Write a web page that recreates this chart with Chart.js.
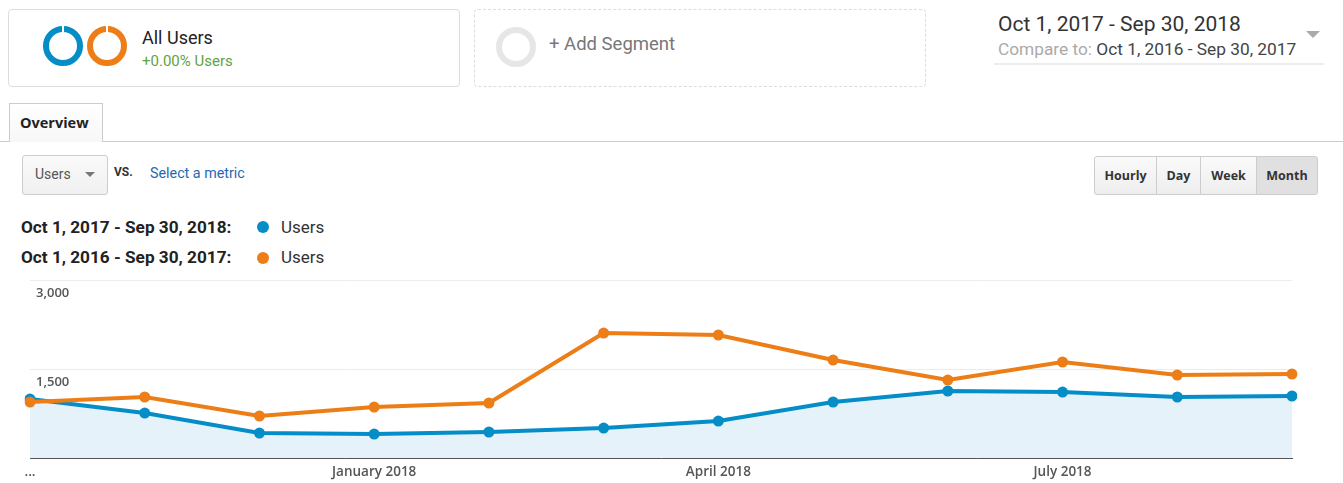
<!DOCTYPE html>
<html>
<head>
<meta charset="utf-8">
<script src="https://cdn.jsdelivr.net/npm/chart.js@4.4.0/dist/chart.umd.min.js"></script>
<style>
  body { margin: 0; width: 1343px; height: 483px; background: #fff; font-family: Roboto, Arial, sans-serif; position: relative; overflow: hidden; color: #333; }
  .abs { position: absolute; }
  .seg { top: 9px; height: 78px; border: 1px solid #dcdcdc; border-radius: 4px; box-sizing: border-box; }
  .ring { width: 40px; height: 40px; border-radius: 50%; box-sizing: border-box; border: 6px solid; }
  .tab { left: 9px; top: 103px; width: 94px; height: 39px; border: 1px solid #ccc; border-bottom: none; background: linear-gradient(#fff, #f7f7f7); box-sizing: border-box; font: bold 14.5px "Open Sans", Arial, sans-serif; color: #222; padding: 9px 0 0 10px; }
  .btn { top: 156px; height: 39px; border: 1px solid #ccc; background: linear-gradient(#fafafa, #eee); box-sizing: border-box; font: bold 12.5px "Open Sans", Arial, sans-serif; color: #333; text-align: center; line-height: 37px; }
  .lg { font: bold 17.2px Roboto, Arial, sans-serif; color: #222; left: 21px; }
  .dot { width: 12px; height: 12px; border-radius: 50%; }
  .lu { font: 17px Roboto, Arial, sans-serif; color: #333; left: 281px; }
</style>
</head>
<body>
  <div class="abs seg" style="left:8px;width:452px;"></div>
  <div class="abs ring" style="left:43px;top:26px;border-color:#058dc7;"></div>
  <div class="abs" style="left:62px;top:26px;width:2px;height:6px;background:#fff;"></div>
  <div class="abs ring" style="left:87px;top:26px;border-color:#ed7e17;"></div>
  <div class="abs" style="left:106px;top:26px;width:2px;height:6px;background:#fff;"></div>
  <div class="abs" style="left:142px;top:27px;font-size:18px;color:#222;">All Users</div>
  <div class="abs" style="left:142px;top:52px;font-size:15px;color:#5fa33e;">+0.00% Users</div>

  <div class="abs seg" style="left:474px;width:452px;border-style:dashed;"></div>
  <div class="abs ring" style="left:496px;top:27px;border-color:#e6e6e6;"></div>
  <div class="abs" style="left:549px;top:33px;font-size:18.5px;color:#777;">+ Add Segment</div>

  <div class="abs" style="left:998px;top:12px;font-size:21px;color:#333;">Oct 1, 2017 - Sep 30, 2018</div>
  <div class="abs" style="left:998px;top:39px;font-size:17.3px;color:#aaa;">Compare to: <span style="color:#444;">Oct 1, 2016 - Sep 30, 2017</span></div>
  <div class="abs" style="left:1306px;top:31px;width:0;height:0;border-left:7px solid transparent;border-right:7px solid transparent;border-top:7px solid #aaa;"></div>
  <div class="abs" style="left:994px;top:63px;width:330px;height:2px;background:#ececec;"></div>

  <div class="abs" style="left:0;top:141px;width:1343px;height:1px;background:#ccc;"></div>
  <div class="abs tab">Overview</div>

  <div class="abs" style="left:22px;top:155px;width:86px;height:40px;border:1px solid #ccc;border-radius:3px;background:linear-gradient(#fafafa,#f0f0f0);box-sizing:border-box;font:14px Roboto,Arial,sans-serif;color:#555;padding:10px 0 0 12px;">Users</div>
  <div class="abs" style="left:85px;top:172px;width:0;height:0;border-left:5px solid transparent;border-right:5px solid transparent;border-top:5px solid #777;"></div>
  <div class="abs" style="left:114px;top:165px;font:bold 12px Roboto,Arial,sans-serif;color:#333;">VS.</div>
  <div class="abs" style="left:150px;top:165px;font:14.3px Roboto,Arial,sans-serif;color:#1f68b6;">Select a metric</div>

  <div class="abs btn" style="left:1094px;width:63px;border-radius:3px 0 0 3px;">Hourly</div>
  <div class="abs btn" style="left:1156px;width:45px;">Day</div>
  <div class="abs btn" style="left:1200px;width:57px;">Week</div>
  <div class="abs btn" style="left:1256px;width:62px;border-radius:0 3px 3px 0;background:#e0e0e0;font-weight:bold;">Month</div>

  <div class="abs lg" style="top:217px;">Oct 1, 2017 - Sep 30, 2018:</div>
  <div class="abs dot" style="left:257px;top:221px;background:#058dc7;"></div>
  <div class="abs lu" style="top:217px;">Users</div>
  <div class="abs lg" style="top:247px;">Oct 1, 2016 - Sep 30, 2017:</div>
  <div class="abs dot" style="left:257px;top:252px;background:#ed7e17;"></div>
  <div class="abs lu" style="top:247px;">Users</div>

  <div class="abs" style="left:0;top:270px;width:1343px;height:213px;">
    <canvas id="usersChart"></canvas>
  </div>

<script>
// monthly users, Oct -> Sep
const months = ['Oct', 'Nov', 'Dec', 'Jan', 'Feb', 'Mar', 'Apr', 'May', 'Jun', 'Jul', 'Aug', 'Sep'];
const xTickLabels = ['...', '', '', 'January 2018', '', '', 'April 2018', '', '', 'July 2018', '', ''];
const users2018 = [994, 758, 421, 404, 438, 505, 623, 944, 1129, 1112, 1028, 1045];
const users2017 = [944, 1028, 708, 859, 927, 2106, 2073, 1651, 1314, 1618, 1399, 1415];
const yTicks = [1500, 3000];

const blue = '#058dc7';
const orange = '#ed7e17';

const ctx = document.getElementById('usersChart').getContext('2d');
new Chart(ctx, {
    type: 'line',
    data: {
        labels: months,
        datasets: [
            {
                label: 'Oct 1, 2016 - Sep 30, 2017',
                data: users2017,
                borderColor: orange,
                backgroundColor: orange,
                borderWidth: 4,
                pointRadius: 5.5,
                pointBorderWidth: 0,
                fill: false,
                tension: 0,
                order: 0
            },
            {
                label: 'Oct 1, 2017 - Sep 30, 2018',
                data: users2018,
                borderColor: blue,
                backgroundColor: blue,
                borderWidth: 4,
                pointRadius: 5.5,
                pointBorderWidth: 0,
                fill: { target: 'origin', above: '#e6f2f9' },
                tension: 0,
                order: 1
            }
        ]
    },
    options: {
        responsive: true,
        maintainAspectRatio: false,
        animation: false,
        layout: { padding: { left: 30, right: 51, top: 10, bottom: 0 } },
        plugins: {
            legend: { display: false },
            tooltip: { enabled: false }
        },
        scales: {
            x: {
                offset: false,
                grid: { display: false, drawTicks: false },
                border: { display: true, color: '#555', width: 1 },
                ticks: {
                    autoSkip: false,
                    maxRotation: 0,
                    padding: 6,
                    color: '#555',
                    font: { family: '"Open Sans", Arial, sans-serif', size: 13.5, weight: '600' },
                    callback: (v, i) => xTickLabels[i]
                },
                afterFit: s => { s.height = 25; }
            },
            y: {
                min: 0,
                max: 3000,
                afterBuildTicks: s => { s.ticks = yTicks.map(v => ({ value: v })); },
                grid: { color: '#ececec', drawTicks: false },
                border: { display: false },
                ticks: {
                    mirror: true,
                    labelOffset: 13,
                    padding: 6,
                    color: '#555',
                    font: { family: '"Open Sans", Arial, sans-serif', size: 13, weight: '600' },
                    callback: v => v.toLocaleString('en-US')
                },
                afterFit: s => { s.width = 0; s.paddingTop = 0; s.paddingBottom = 0; }
            }
        }
    }
});
</script>
</body>
</html>
